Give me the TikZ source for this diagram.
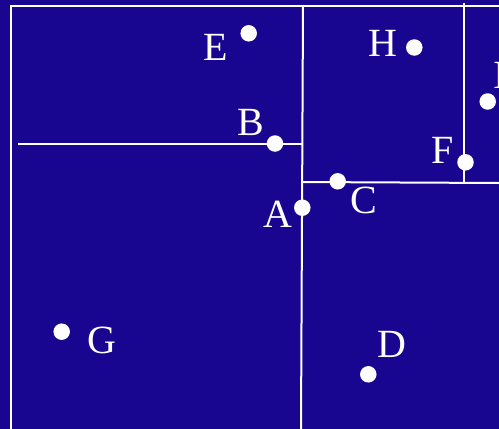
\documentclass[tikz,border=0pt]{standalone}
\usepackage{fontspec}
\setmainfont{Liberation Serif}
\definecolor{bgblue}{RGB}{24,6,145}
\tikzset{
  wline/.style={draw=white, line width=2pt},
  dot/.style={circle, fill=white, inner sep=0pt, minimum size=16.5pt},
  lbl/.style={text=white, inner sep=0pt, anchor=base, font=\fontsize{40}{40}\selectfont}
}
\begin{document}
\begin{tikzpicture}[x=1pt, y=-1pt]
\fill[bgblue] (0,0) rectangle (499,429);
\useasboundingbox (0,0) rectangle (499,429);
% frame and divisions
\coordinate (tl) at (11,6);
\coordinate (tr) at (499,6);
\coordinate (bl) at (11,429);
\coordinate (mt) at (303,6);
\coordinate (mb) at (301,429);
\coordinate (bh1) at (18,144);
\coordinate (bh2) at (302.3,144);
\coordinate (ch1) at (302,182);
\coordinate (ch2) at (499,183);
\coordinate (ft) at (464,3);
\coordinate (fb) at (464,182.7);
\draw[wline] (bl) -- (tl) -- (tr);
\draw[wline] (mt) -- (mb);
\draw[wline] (bh1) -- (bh2);
\draw[wline] (ch1) -- (ch2);
\draw[wline] (ft) -- (fb);
% points
\node[dot] (E) at (248.7,33.3) {};
\node[dot] (H) at (414.3,47.5) {};
\node[dot] (I) at (487.7,101.5) {};
\node[dot] (B) at (275,143.5) {};
\node[dot] (F) at (465.5,162.3) {};
\node[dot] (C) at (337.7,181.3) {};
\node[dot] (A) at (302.3,207.7) {};
\node[dot] (G) at (61.7,331.7) {};
\node[dot] (D) at (368.3,374.3) {};
% labels
\node[lbl] (lE) at (216,60) {E};
\node[lbl] (lH) at (383,56) {H};
\node[lbl] (lI) at (500,88) {I};
\node[lbl] (lB) at (251,135) {B};
\node[lbl] (lF) at (442.5,163) {F};
\node[lbl] (lC) at (364,213) {C};
\node[lbl] (lA) at (278,227) {A};
\node[lbl] (lG) at (102,353) {G};
\node[lbl] (lD) at (392,357) {D};
\end{tikzpicture}
\end{document}
